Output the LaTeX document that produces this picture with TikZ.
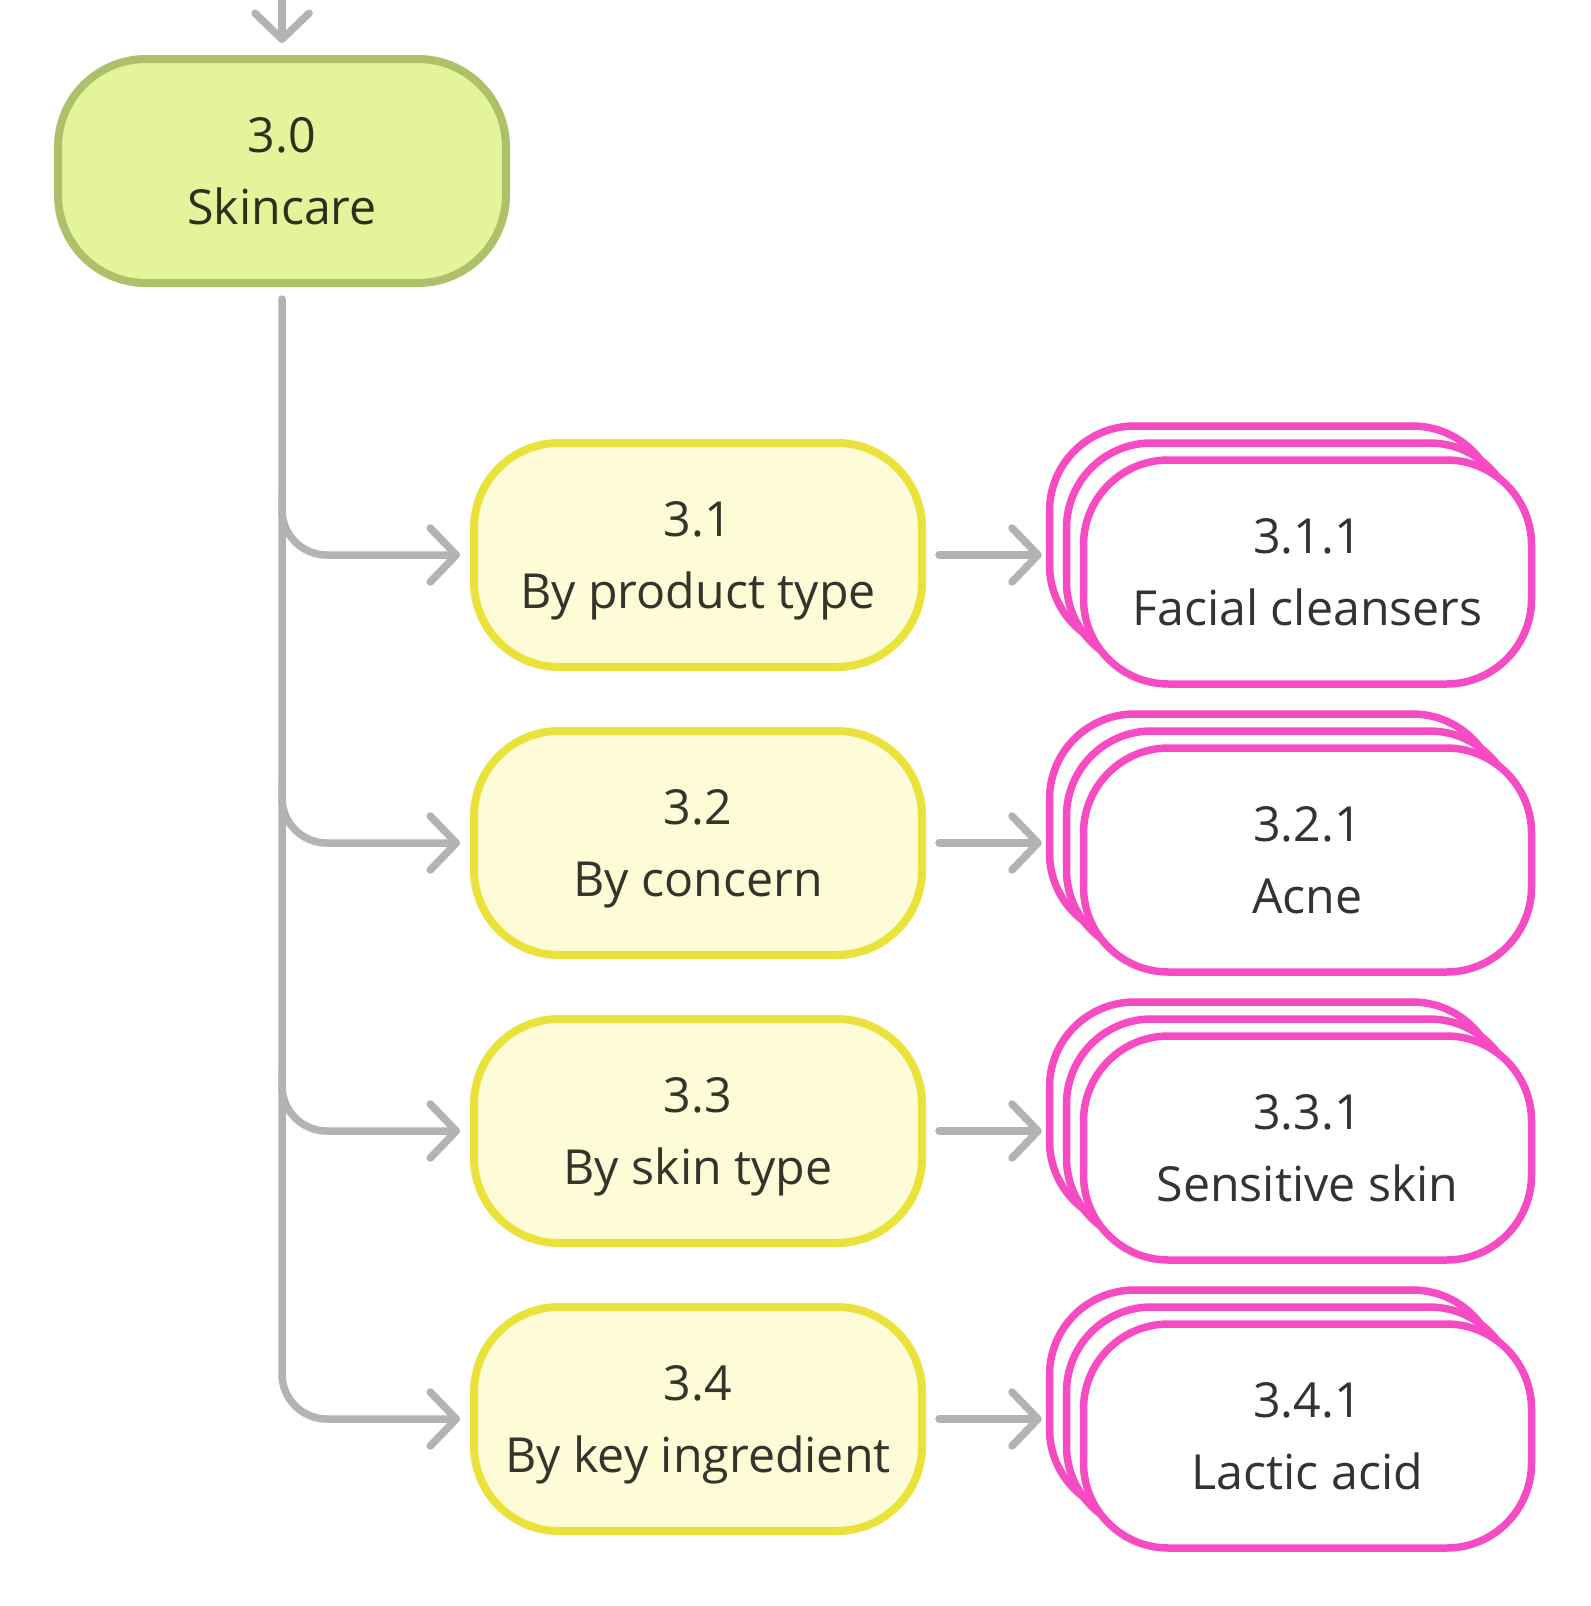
\documentclass[tikz,border=0pt]{standalone}
\usepackage{fontspec}
\setmainfont{Open Sans}
\usetikzlibrary{arrows.meta,calc}
\definecolor{gfill}{HTML}{E3F49A}
\definecolor{gdraw}{HTML}{AFC06B}
\definecolor{gtext}{HTML}{2D311C}
\definecolor{yfill}{HTML}{FEFCD6}
\definecolor{ydraw}{HTML}{EAE23B}
\definecolor{ytext}{HTML}{35342A}
\definecolor{pdraw}{HTML}{F74BC3}
\definecolor{ptext}{HTML}{333333}
\definecolor{lgray}{HTML}{B3B3B3}
\newcommand\twolines[2]{#1\\\smash{#2}}
\begin{document}
\begin{tikzpicture}[x=0.5pt,y=-0.5pt,
  box/.style={rounded corners=42.5pt, minimum width=224pt, minimum height=112pt, inner sep=0pt, align=center,
    font=\fontsize{24.15pt}{36.25pt}\selectfont},
  topbox/.style={box, fill=gfill, draw=gdraw, line width=4pt, text=gtext, rounded corners=44pt},
  catbox/.style={box, fill=yfill, draw=ydraw, line width=4pt, text=ytext},
  leafbox/.style={box, fill=white, draw=pdraw, line width=3.75pt, text=ptext},
  conn/.style={draw=lgray, line width=3.75pt, line cap=round, -{Straight Barb[length=13pt,width=27pt,round]}},
]
\useasboundingbox (0,0) rectangle (1590,1606);
\fill[white] (0,0) rectangle (1590,1606);

\node[topbox] (top) at (282,171) {\twolines{3.0}{Skincare}};

\node[catbox] (n31) at (698,555) {\twolines{3.1}{By product type}};
\node[catbox] (n32) at (698,843) {\twolines{3.2}{By concern}};
\node[catbox] (n33) at (698,1131) {\twolines{3.3}{By skin type}};
\node[catbox] (n34) at (698,1419) {\twolines{3.4}{By key ingredient}};

% leaf stacks
\node[leafbox] (p1b) at (1273.5,538) {};
\node[leafbox] (p1m) at (1290.5,555) {};
\node[leafbox] (p1) at (1307.5,572) {\twolines{3.1.1}{Facial cleansers}};

\node[leafbox] (p2b) at (1273.5,826) {};
\node[leafbox] (p2m) at (1290.5,843) {};
\node[leafbox] (p2) at (1307.5,860) {\twolines{3.2.1}{Acne}};

\node[leafbox] (p3b) at (1273.5,1114) {};
\node[leafbox] (p3m) at (1290.5,1131) {};
\node[leafbox] (p3) at (1307.5,1148) {\twolines{3.3.1}{Sensitive skin}};

\node[leafbox] (p4b) at (1273.5,1402) {};
\node[leafbox] (p4m) at (1290.5,1419) {};
\node[leafbox] (p4) at (1307.5,1436) {\twolines{3.4.1}{Lactic acid}};

% incoming arrow
\coordinate (entry) at (282,-10);
\draw[conn, shorten >=6pt] (entry) -- (top.north);

% trunk and branches
\coordinate (trunk) at ($(top.south)+(0,12)$);
\draw[conn, rounded corners=22.5pt, shorten >=5pt] (trunk) |- (n34.west);
\draw[conn, rounded corners=22.5pt, shorten >=5pt] ($(trunk |- n31.west)+(0,-60)$) |- (n31.west);
\draw[conn, rounded corners=22.5pt, shorten >=5pt] ($(trunk |- n32.west)+(0,-60)$) |- (n32.west);
\draw[conn, rounded corners=22.5pt, shorten >=5pt] ($(trunk |- n33.west)+(0,-60)$) |- (n33.west);

% category to leaf arrows
\draw[conn, shorten <=6.5pt, shorten >=2pt] (n31.east) -- (n31.east -| p1b.west);
\draw[conn, shorten <=6.5pt, shorten >=2pt] (n32.east) -- (n32.east -| p2b.west);
\draw[conn, shorten <=6.5pt, shorten >=2pt] (n33.east) -- (n33.east -| p3b.west);
\draw[conn, shorten <=6.5pt, shorten >=2pt] (n34.east) -- (n34.east -| p4b.west);
\end{tikzpicture}
\end{document}
